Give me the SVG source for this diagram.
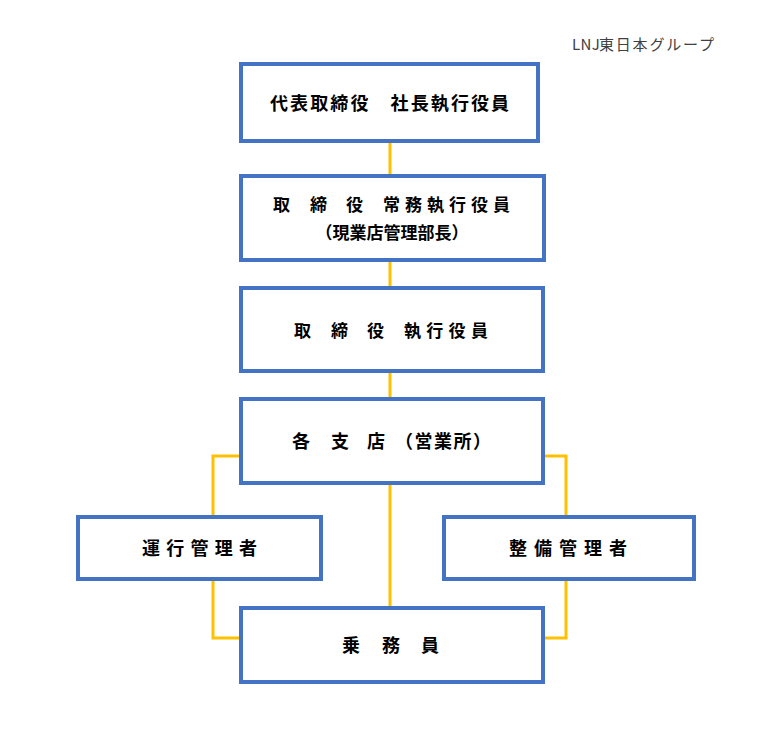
<svg xmlns="http://www.w3.org/2000/svg" width="767" height="731" viewBox="0 0 767 731">
<style>
.box{fill:#FFFFFF;stroke:#4472C4;stroke-width:4}
.ln{fill:none;stroke:#FFC000;stroke-width:3}
.t{font-family:"Noto Sans CJK JP","Noto Sans",sans-serif;font-weight:bold;fill:#000000}
.title{font-family:"Noto Sans CJK JP","Noto Sans",sans-serif;font-size:15px;fill:#404040}
</style>
<rect width="767" height="731" fill="#FFFFFF"/>
<g id="connectors">
<line class="ln" x1="390" y1="141" x2="390" y2="176"/>
<line class="ln" x1="390" y1="260" x2="390" y2="288"/>
<line class="ln" x1="390" y1="371" x2="390" y2="399"/>
<line class="ln" x1="390" y1="484" x2="390" y2="608"/>
<polyline class="ln" points="241,456 213,456 213,517"/>
<polyline class="ln" points="213,579 213,638 241,638"/>
<polyline class="ln" points="542,456 566,456 566,517"/>
<polyline class="ln" points="566,579 566,638 542,638"/>
</g>
<text id="title" class="title" y="50"><tspan x="572" letter-spacing="0.4">LNJ</tspan><tspan x="599" letter-spacing="1.8">東日本グループ</tspan></text>
<g id="n1">
<rect class="box" x="241" y="64" width="297" height="77"/>
<text class="t" x="270" y="110" font-size="18" letter-spacing="2.1">代表取締役　社長執行役員</text>
</g>
<g id="n2">
<rect class="box" x="241" y="176" width="303" height="84"/>
<text class="t" y="211" font-size="17"><tspan x="273">取</tspan><tspan x="310">締</tspan><tspan x="346">役</tspan><tspan x="383" letter-spacing="5">常務執行役員</tspan></text>
<text class="t" x="392" y="239" font-size="17" text-anchor="middle">（現業店管理部長）</text>
</g>
<g id="n3">
<rect class="box" x="241" y="288" width="302" height="83"/>
<text class="t" y="336.5" font-size="17"><tspan x="294">取</tspan><tspan x="331">締</tspan><tspan x="367">役</tspan><tspan x="404" letter-spacing="5.3">執行役員</tspan></text>
</g>
<g id="n4">
<rect class="box" x="241" y="399" width="302" height="84"/>
<text class="t" y="448" font-size="18"><tspan x="292">各</tspan><tspan x="331">支</tspan><tspan x="367">店</tspan><tspan x="395" letter-spacing="1.5">（営業所）</tspan></text>
</g>
<g id="n5">
<rect class="box" x="78" y="517" width="243" height="62"/>
<text class="t" x="142" y="555" font-size="18" letter-spacing="6.25">運行管理者</text>
</g>
<g id="n6">
<rect class="box" x="444" y="517" width="250" height="62"/>
<text class="t" x="509" y="555" font-size="18" letter-spacing="7">整備管理者</text>
</g>
<g id="n7">
<rect class="box" x="241" y="608" width="302" height="74"/>
<text class="t" y="652" font-size="18"><tspan x="342">乗</tspan><tspan x="382">務</tspan><tspan x="421">員</tspan></text>
</g>
</svg>
